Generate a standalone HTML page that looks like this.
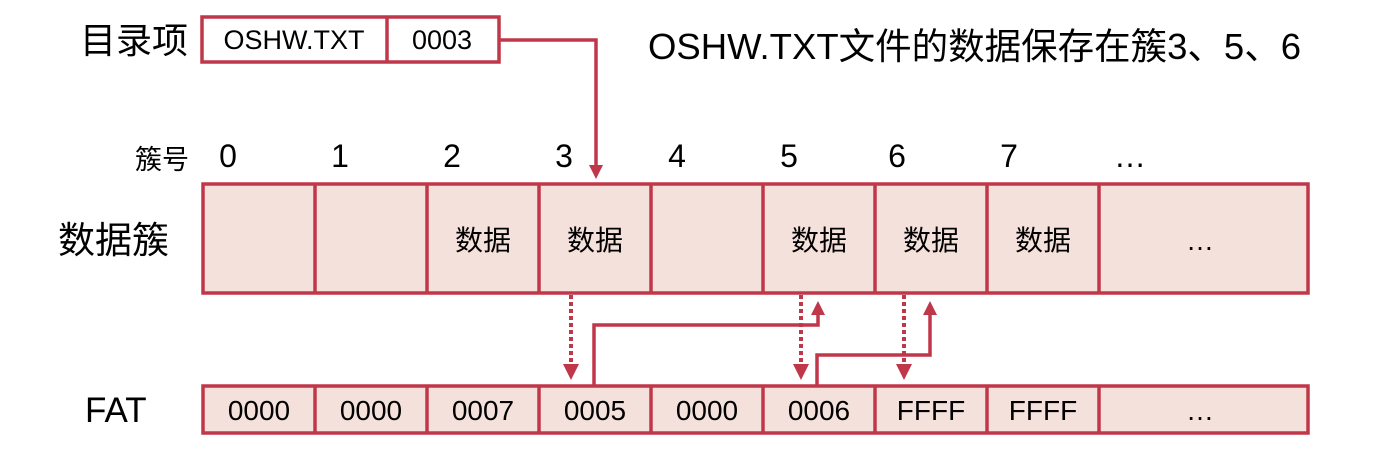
<!DOCTYPE html>
<html><head><meta charset="utf-8"><style>
body{margin:0;background:#fff;width:1382px;height:449px;overflow:hidden}
text{font-family:"Liberation Sans","Noto Sans CJK SC",sans-serif;fill:#000}
</style></head><body>
<svg width="1382" height="449" viewBox="0 0 1382 449">
<defs>
<marker id="a" markerWidth="4" markerHeight="4" refX="2" refY="2" orient="auto" markerUnits="strokeWidth"><path d="M0,0 L4,2 L0,4z" fill="#C0374A"/></marker>
</defs>
<g stroke="#C0374A" stroke-width="3.5" fill="none">
<rect x="202" y="17" width="297" height="45" fill="#fff"/>
<line x1="387" y1="17" x2="387" y2="62"/>
<rect x="203" y="184" width="1105" height="109" fill="#F5E1DC"/>
<line x1="315" y1="184" x2="315" y2="293"/><line x1="427" y1="184" x2="427" y2="293"/><line x1="539" y1="184" x2="539" y2="293"/><line x1="651" y1="184" x2="651" y2="293"/><line x1="763" y1="184" x2="763" y2="293"/><line x1="875" y1="184" x2="875" y2="293"/><line x1="987" y1="184" x2="987" y2="293"/><line x1="1099" y1="184" x2="1099" y2="293"/>
<rect x="203" y="386" width="1105" height="47" fill="#F5E1DC"/>
<line x1="315" y1="386" x2="315" y2="433"/><line x1="427" y1="386" x2="427" y2="433"/><line x1="539" y1="386" x2="539" y2="433"/><line x1="651" y1="386" x2="651" y2="433"/><line x1="763" y1="386" x2="763" y2="433"/><line x1="875" y1="386" x2="875" y2="433"/><line x1="987" y1="386" x2="987" y2="433"/><line x1="1099" y1="386" x2="1099" y2="433"/>
<polyline points="499,40 596,40 596,172" marker-end="url(#a)"/>
<line x1="571" y1="295" x2="571" y2="372" stroke-width="4" stroke-dasharray="4,3" marker-end="url(#a)"/>
<line x1="801" y1="295" x2="801" y2="372" stroke-width="4" stroke-dasharray="4,3" marker-end="url(#a)"/>
<line x1="904" y1="295" x2="904" y2="372" stroke-width="4" stroke-dasharray="4,3" marker-end="url(#a)"/>
<polyline points="594,385 594,325 818,325 818,308" marker-end="url(#a)"/>
<polyline points="817,385 817,355 930,355 930,308" marker-end="url(#a)"/>
</g>
<text x="80" y="53" font-size="36">目录项</text>
<text x="294" y="49" font-size="27" text-anchor="middle">OSHW.TXT</text>
<text x="442" y="49" font-size="27" text-anchor="middle">0003</text>
<text x="648" y="59" font-size="36.5">OSHW.TXT文件的数据保存在簇3、5、6</text>
<text x="135" y="169" font-size="27">簇号</text>
<g font-size="32" text-anchor="middle">
<text x="228" y="167">0</text><text x="340" y="167">1</text><text x="452" y="167">2</text><text x="564" y="167">3</text><text x="677" y="167">4</text><text x="789" y="167">5</text><text x="897" y="167">6</text><text x="1009" y="167">7</text><text x="1130" y="167">…</text>
</g>
<text x="58" y="253" font-size="37">数据簇</text>
<g font-size="28" text-anchor="middle">
<text x="483" y="250">数据</text><text x="595" y="250">数据</text><text x="819" y="250">数据</text><text x="931" y="250">数据</text><text x="1043" y="250">数据</text><text x="1200" y="250">…</text>
</g>
<text x="85" y="422" font-size="35">FAT</text>
<g font-size="28" text-anchor="middle">
<text x="259" y="420">0000</text><text x="371" y="420">0000</text><text x="483" y="420">0007</text><text x="595" y="420">0005</text><text x="707" y="420">0000</text><text x="819" y="420">0006</text><text x="931" y="420">FFFF</text><text x="1043" y="420">FFFF</text><text x="1200" y="420">…</text>
</g>
</svg>
</body></html>
